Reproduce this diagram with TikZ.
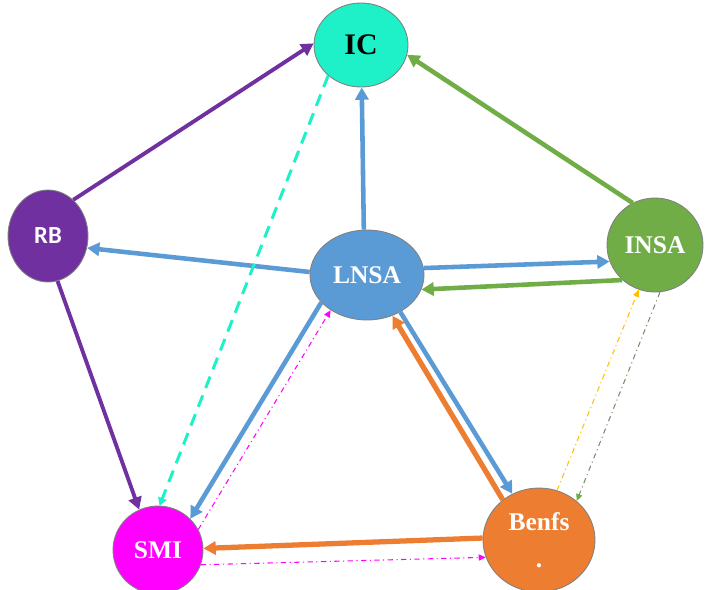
\documentclass[tikz,border=0pt]{standalone}
\usepackage{fontspec}
\setmainfont{Liberation Serif}
\newfontfamily\rbfont{Carlito}
\usetikzlibrary{arrows.meta,shapes.geometric}

\definecolor{icaqua}{RGB}{30,240,200}
\definecolor{rbpurple}{RGB}{112,48,160}
\definecolor{lnsablue}{RGB}{91,155,213}
\definecolor{insagreen}{RGB}{112,173,71}
\definecolor{smimagenta}{RGB}{255,0,255}
\definecolor{benfsorange}{RGB}{237,125,49}
\definecolor{hintyellow}{RGB}{255,192,0}
\definecolor{hintgray}{RGB}{125,138,108}

\begin{document}
\begin{tikzpicture}[x=0.02cm,y=-0.02cm,
        agent/.style={ellipse,draw=black!50,line width=0.5pt,inner sep=0pt,
                      text=white,align=center,
                      font=\fontsize{14.5}{21}\selectfont\bfseries},
        flow/.style={line width=2.6pt,-{Triangle[length=7pt,width=7.5pt]}},
        hint/.style={line width=0.6pt,dash dot,-{Triangle[length=4pt,width=3.5pt]}}]
    \useasboundingbox (0,0) rectangle (706,589);

    % actors
    \node[agent,fill=icaqua,text=black,minimum width=1.88cm,minimum height=1.68cm,
          font=\fontsize{17}{20}\selectfont\bfseries] (ic) at (361,45) {IC};
    \node[agent,fill=rbpurple,minimum width=1.6cm,minimum height=1.84cm,
          font=\fontsize{14}{16}\rbfont\bfseries] (rb) at (48,236) {RB};
    \node[agent,fill=lnsablue,minimum width=2.28cm,minimum height=1.8cm] (lnsa) at (367,275) {LNSA};
    \node[agent,fill=insagreen,minimum width=1.92cm,minimum height=1.88cm] (insa) at (655,245) {INSA};
    \node[agent,fill=smimagenta,minimum width=1.8cm,minimum height=1.76cm] (smi) at (158,550) {SMI};
    \node[agent,fill=benfsorange,minimum width=2.24cm,minimum height=2.08cm] (benfs) at (539,540) {Benfs\\.};

    % main flows
    \draw[flow,rbpurple,line width=2.2pt] (rb.55) -- (ic.178);
    \draw[flow,rbpurple,line width=2.2pt] (rb.-78) -- (smi.115);
    \draw[flow,lnsablue] (lnsa.94) -- (ic.271);
    \draw[flow,lnsablue] (lnsa.177) -- (rb.-17);
    \draw[flow,lnsablue] (lnsa.7) -- (insa.200);
    \draw[flow,insagreen] (insa.227) -- (lnsa.-15);
    \draw[flow,insagreen] (insa.118) -- (ic.-12);
    \draw[flow,lnsablue] (lnsa.211) -- (smi.44);
    \draw[flow,lnsablue] (lnsa.-48) -- (benfs.120);
    \draw[flow,benfsorange,line width=3pt] (benfs.132) -- (lnsa.-58);
    \draw[flow,benfsorange,line width=3pt] (benfs.178) -- (smi.2);

    % weaker links
    \draw[icaqua,line width=1.7pt,dash pattern=on 7pt off 4.5pt,
          -{Triangle[length=4.5pt,width=5pt]}] (ic.223) -- (smi.88);
    \draw[hint,smimagenta] (smi.27) -- (lnsa.224);
    \draw[hint,smimagenta] (smi.-19) -- (benfs.198);
    \draw[hint,hintyellow] (benfs.70) -- (insa.250);
    \draw[hint,hintgray,-{Triangle[length=4pt,width=3.5pt,color=insagreen]}] (insa.-84) -- (benfs.46);
\end{tikzpicture}
\end{document}
